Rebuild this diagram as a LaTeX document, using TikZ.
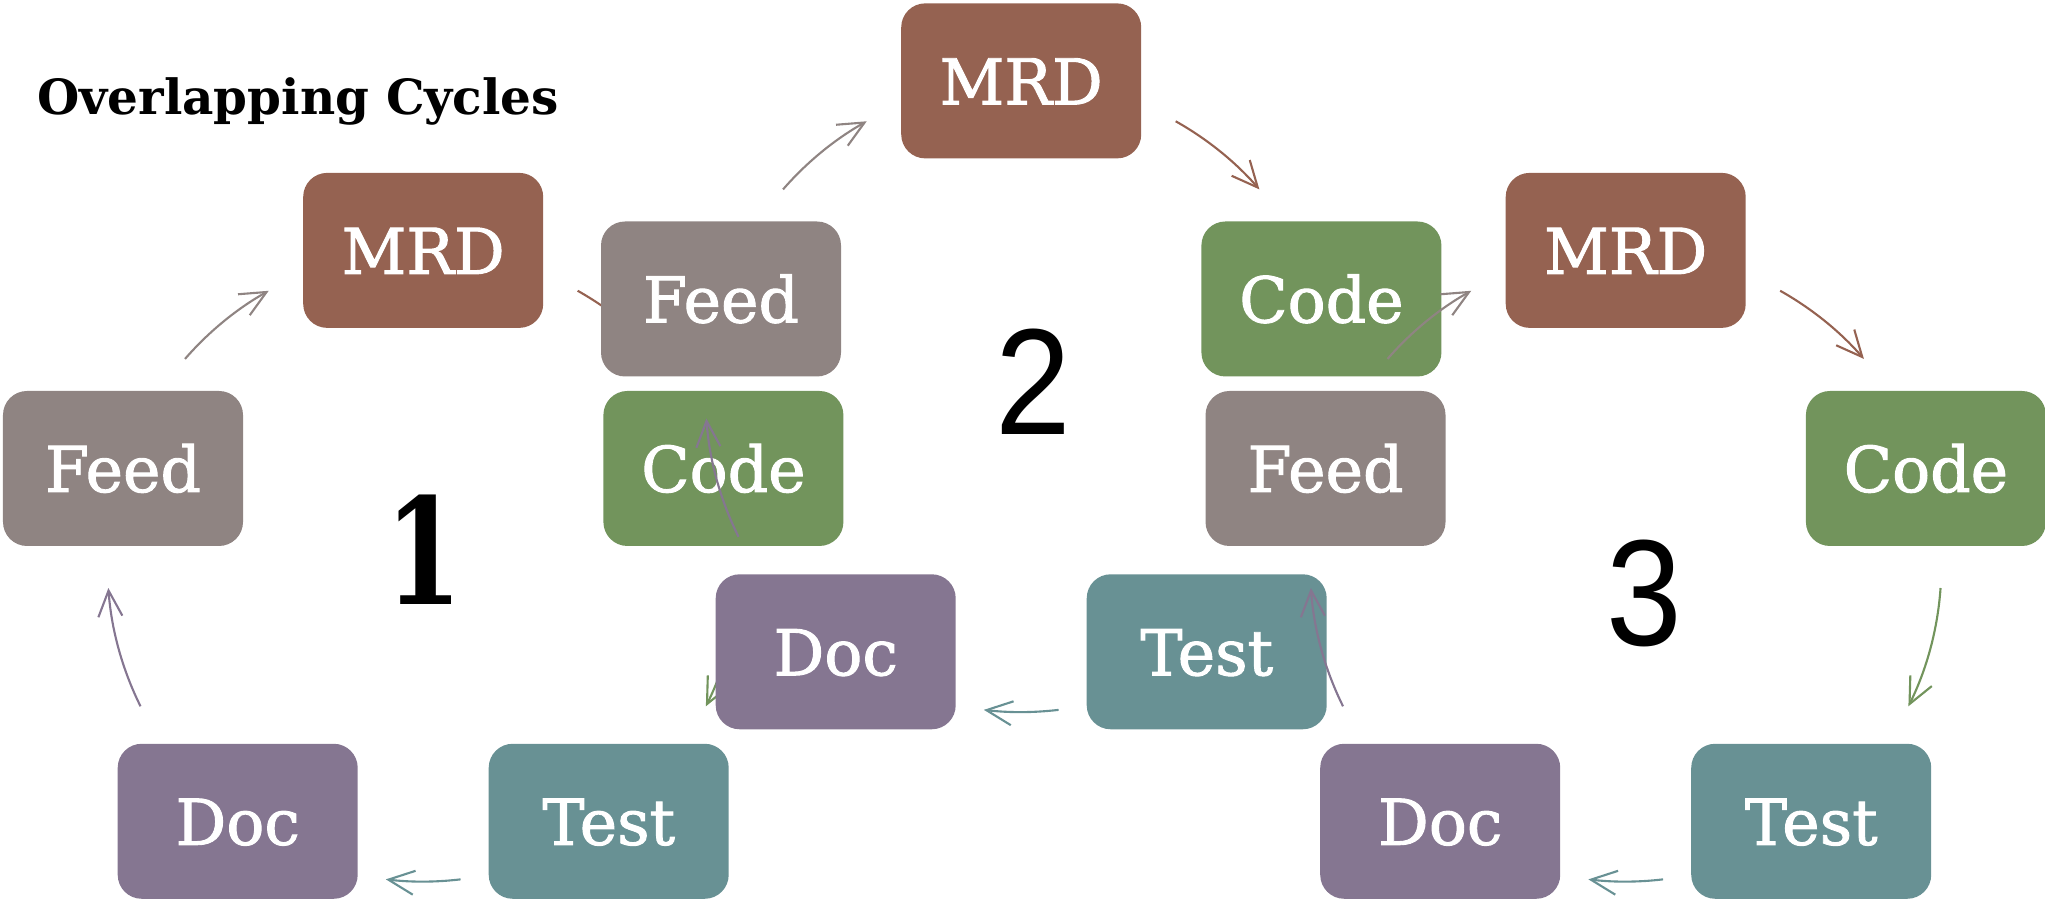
\documentclass[tikz,border=0pt]{standalone}
\usepackage{fontspec}
\setmainfont{DejaVu Serif}
\newfontfamily\stagefont[FakeBold=1.5]{DejaVu Serif}
\newfontfamily\twofont[FakeStretch=0.9]{Liberation Sans}
\newfontfamily\onefont[FakeStretch=0.75]{DejaVu Serif}
\usetikzlibrary{arrows.meta}

\definecolor{mrdbrown}{RGB}{149,98,81}
\definecolor{feedgrey}{RGB}{143,132,130}
\definecolor{codegreen}{RGB}{114,148,92}
\definecolor{testteal}{RGB}{104,145,148}
\definecolor{docpurple}{RGB}{133,118,145}

\tikzset{
  stage/.style={rounded corners=0.24cm, minimum width=2.4cm, minimum height=1.55cm,
    inner sep=0pt, text=white, font=\stagefont\fontsize{18}{20}\selectfont,
    text height=0.47cm, text depth=0pt},
  turn/.style={line width=0.6pt, -{Straight Barb[length=2.6mm,width=2.4mm]}},
  bignum/.style={inner sep=0pt, text depth=0pt},
}

\begin{document}
\begin{tikzpicture}
    \useasboundingbox (0,0) rectangle (20.45,8.99);

    \coordinate (c1) at (4.232,3.33);
    \coordinate (c2) at (10.212,5.025);
    \coordinate (c3) at (16.257,3.33);

    \node[anchor=base west, inner sep=0pt, font=\bfseries\fontsize{13.8}{16}\selectfont] (title) at (0.365,7.84) {Overlapping Cycles};

    % cycle 1
    \draw[turn,feedgrey] ([shift={(139:3.156)}]c1) arc[start angle=139, end angle=119.3, radius=3.156];
    \draw[turn,mrdbrown] ([shift={(60.7:3.156)}]c1) arc[start angle=60.7, end angle=41, radius=3.156];
    \draw[turn,codegreen] ([shift={(-4:3.156)}]c1) arc[start angle=-4, end angle=-26.4, radius=3.156];
    \draw[turn,testteal] ([shift={(-83.2:3.156)}]c1) arc[start angle=-83.2, end angle=-96.8, radius=3.156];
    \draw[turn,docpurple] ([shift={(-153.6:3.156)}]c1) arc[start angle=-153.6, end angle=-176, radius=3.156];
    \node[stage,fill=mrdbrown] (mrd1) at (4.232,6.486) {MRD};
    \node[stage,fill=codegreen] (code1) at (7.234,4.305) {Code};
    \node[stage,fill=testteal] (test1) at (6.087,0.777) {Test};
    \node[stage,fill=docpurple] (doc1) at (2.377,0.777) {Doc};
    \node[stage,fill=feedgrey] (feed1) at (1.230,4.305) {Feed};

    % cycle 2
    \draw[turn,feedgrey] ([shift={(139:3.156)}]c2) arc[start angle=139, end angle=119.3, radius=3.156];
    \draw[turn,mrdbrown] ([shift={(60.7:3.156)}]c2) arc[start angle=60.7, end angle=41, radius=3.156];
    \draw[turn,codegreen] ([shift={(-4:3.156)}]c2) arc[start angle=-4, end angle=-26.4, radius=3.156];
    \draw[turn,testteal] ([shift={(-83.2:3.156)}]c2) arc[start angle=-83.2, end angle=-96.8, radius=3.156];
    \draw[turn,docpurple] ([shift={(-153.6:3.156)}]c2) arc[start angle=-153.6, end angle=-176, radius=3.156];
    \node[stage,fill=mrdbrown] (mrd2) at (10.212,8.181) {MRD};
    \node[stage,fill=codegreen] (code2) at (13.214,6.000) {Code};
    \node[stage,fill=testteal] (test2) at (12.067,2.472) {Test};
    \node[stage,fill=docpurple] (doc2) at (8.357,2.472) {Doc};
    \node[stage,fill=feedgrey] (feed2) at (7.210,6.000) {Feed};

    % cycle 3
    \draw[turn,feedgrey] ([shift={(139:3.156)}]c3) arc[start angle=139, end angle=119.3, radius=3.156];
    \draw[turn,mrdbrown] ([shift={(60.7:3.156)}]c3) arc[start angle=60.7, end angle=41, radius=3.156];
    \draw[turn,codegreen] ([shift={(-4:3.156)}]c3) arc[start angle=-4, end angle=-26.4, radius=3.156];
    \draw[turn,testteal] ([shift={(-83.2:3.156)}]c3) arc[start angle=-83.2, end angle=-96.8, radius=3.156];
    \draw[turn,docpurple] ([shift={(-153.6:3.156)}]c3) arc[start angle=-153.6, end angle=-176, radius=3.156];
    \node[stage,fill=mrdbrown] (mrd3) at (16.257,6.486) {MRD};
    \node[stage,fill=codegreen] (code3) at (19.259,4.305) {Code};
    \node[stage,fill=testteal] (test3) at (18.112,0.777) {Test};
    \node[stage,fill=docpurple] (doc3) at (14.402,0.777) {Doc};
    \node[stage,fill=feedgrey] (feed3) at (13.255,4.305) {Feed};

    % numbers
    \node[bignum,font=\onefont\bfseries\fontsize{42}{44}\selectfont] (one) at (4.245,3.493) {1};
    \node[bignum,font=\twofont\fontsize{43}{45}\selectfont] (two) at (10.336,5.175) {2};
    \node[bignum,font=\twofont\fontsize{43}{45}\selectfont] (three) at (16.446,3.062) {3};
\end{tikzpicture}
\end{document}
